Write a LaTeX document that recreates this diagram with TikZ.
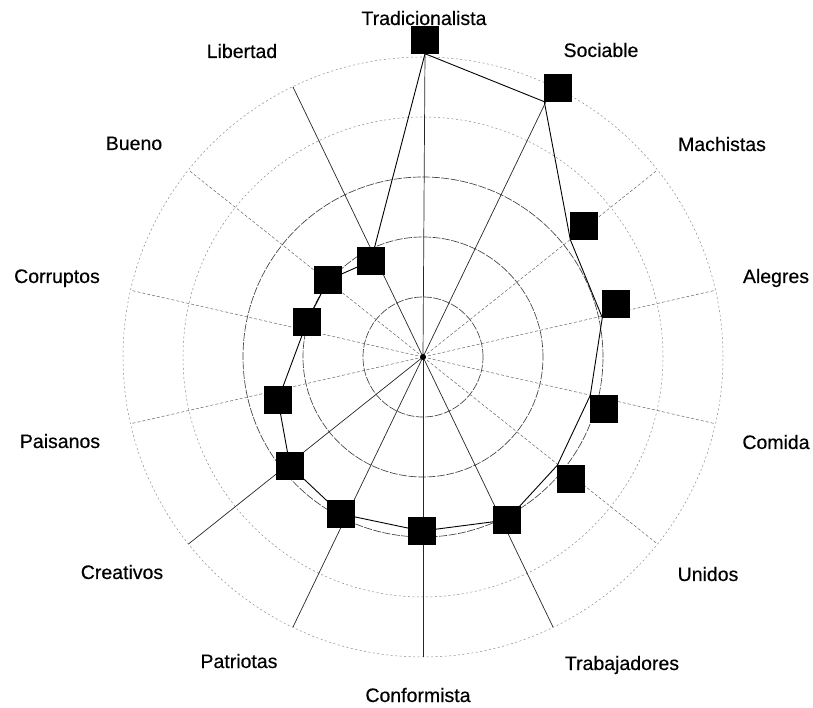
\documentclass[tikz,border=0pt]{standalone}
\usepackage{fontspec}
\setmainfont{Liberation Sans}
\newfontfamily\lblfont[FakeBold=0.4]{Liberation Sans}
\tikzset{
  marker/.style={rectangle, fill=black, minimum size=27pt, inner sep=0pt},
  lbl/.style={anchor=base, inner sep=0pt, font=\lblfont\fontsize{19.5}{22}\selectfont},
  ringdark/.style={draw=black!75, line width=0.65pt, dash pattern=on 8pt off 1.5pt},
  ringlight/.style={draw=black!45, line width=0.5pt, dash pattern=on 2pt off 2.5pt},
  axisline/.style={draw=black!85, line width=0.7pt},
  axisdot/.style={draw=black!60, line width=0.5pt, dash pattern=on 3pt off 2pt},
  dataline/.style={draw=black, line width=0.9pt, line join=round}
}
\begin{document}
\begin{tikzpicture}[x=1pt, y=1pt]
    \useasboundingbox (-423,-351) rectangle (390,357);
    \coordinate (O) at (0,0);

    % rings
    \draw[ringdark] (O) circle (60);
    \draw[ringdark] (O) circle (120);
    \draw[ringdark] (O) circle (180);
    \draw[ringlight] (O) circle (240);
    \draw[ringlight] (O) circle (300);

    % ends of the axes
    \coordinate (eTrad) at (90:300);
    \coordinate (eSoc) at (64.29:300);
    \coordinate (eMach) at (38.57:300);
    \coordinate (eAleg) at (12.86:300);
    \coordinate (eCom) at (-12.86:300);
    \coordinate (eUni) at (-38.57:300);
    \coordinate (eTrab) at (-64.29:300);
    \coordinate (eConf) at (-90:300);
    \coordinate (ePat) at (-115.71:300);
    \coordinate (eCre) at (-141.43:300);
    \coordinate (ePais) at (-167.14:300);
    \coordinate (eCorr) at (167.14:300);
    \coordinate (eBueno) at (141.43:300);
    \coordinate (eLib) at (115.71:300);

    \draw[axisdot] (O) -- (eMach);
    \draw[axisdot] (O) -- (eAleg);
    \draw[axisdot] (O) -- (eCom);
    \draw[axisdot] (O) -- (eUni);
    \draw[axisdot] (O) -- (ePais);
    \draw[axisdot] (O) -- (eCorr);
    \draw[axisdot] (O) -- (eBueno);
    \draw[axisline] (O) -- (eSoc);
    \draw[axisline] (O) -- (eTrab);
    \draw[axisline] (O) -- (eConf);
    \draw[axisline] (O) -- (ePat);
    \draw[axisline] (O) -- (eCre);
    \draw[axisline] (O) -- (eLib);

    % markers
    \node[marker] (trad) at (2,317) {};
    \node[marker] (soc) at (135,269) {};
    \node[marker] (mach) at (161,131) {};
    \node[marker] (aleg) at (193,53) {};
    \node[marker] (com) at (181,-52) {};
    \node[marker] (uni) at (148,-122) {};
    \node[marker] (trab) at (84,-163) {};
    \node[marker] (conf) at (-1,-174) {};
    \node[marker] (pat) at (-82,-157) {};
    \node[marker] (cre) at (-133,-109) {};
    \node[marker] (pais) at (-145,-43) {};
    \node[marker] (corr) at (-116,35) {};
    \node[marker] (bueno) at (-95,77) {};
    \node[marker] (lib) at (-52,96) {};

    \draw[axisline] (O) -- (trad.south);
    \draw[dataline] (trad.south) -- (soc.south west) -- (mach.south west)
        -- (aleg.south west) -- (com.north west) -- (uni.north west)
        -- (trab) -- (conf) -- (pat) -- (cre) -- (pais) -- (corr)
        -- (bueno) -- (lib) -- (trad.south);

    % markers again on top of the lines
    \foreach \m in {trad,soc,mach,aleg,com,uni,trab,conf,pat,cre,pais,corr,bueno,lib}
        \fill (\m.south west) rectangle (\m.north east);

    \fill (O) circle (3);

    % labels
    \node[lbl] (lTrad) at (1,332) {Tradicionalista};
    \node[lbl] (lSoc) at (178,300) {Sociable};
    \node[lbl] (lMach) at (299,206) {Machistas};
    \node[lbl] (lAleg) at (353,74) {Alegres};
    \node[lbl] (lCom) at (353,-92) {Comida};
    \node[lbl] (lUni) at (285,-224) {Unidos};
    \node[lbl] (lTrab) at (199,-313) {Trabajadores};
    \node[lbl] (lConf) at (-5,-345) {Conformista};
    \node[lbl] (lPat) at (-184,-311) {Patriotas};
    \node[lbl] (lCre) at (-301,-222) {Creativos};
    \node[lbl] (lPais) at (-363,-91) {Paisanos};
    \node[lbl] (lCorr) at (-366,74) {Corruptos};
    \node[lbl] (lBueno) at (-289,207) {Bueno};
    \node[lbl] (lLib) at (-181,299) {Libertad};
\end{tikzpicture}
\end{document}
